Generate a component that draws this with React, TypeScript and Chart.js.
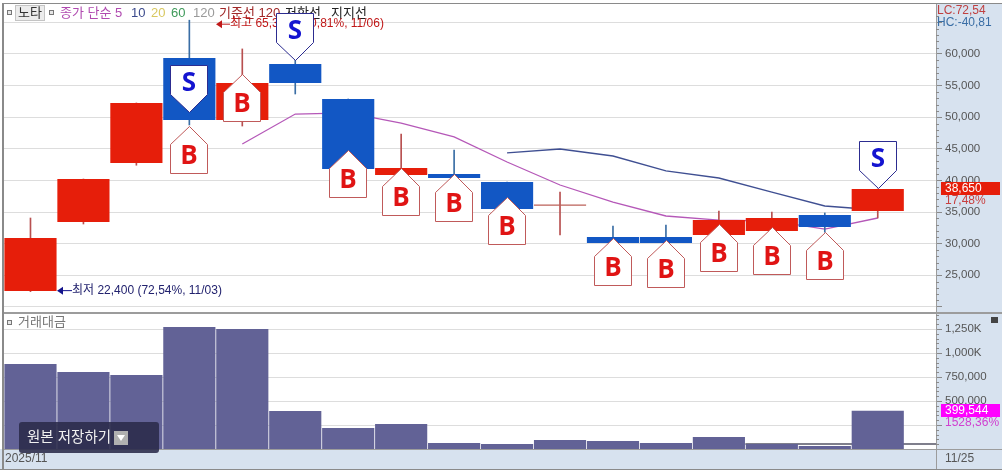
import React, { useEffect, useRef } from "react";
import { Chart, registerables } from "chart.js";

Chart.register(...registerables);

const FONT = '"Liberation Sans", "Noto Sans CJK KR", sans-serif';

const dates = ["11/03", "11/04", "11/05", "11/06", "11/07", "11/10", "11/11", "11/12", "11/13", "11/14", "11/17", "11/18", "11/19", "11/20", "11/21", "11/24", "11/25"];
const opens = [22500, 33420, 42750, 59370, 49560, 58420, 52880, 40850, 41010, 39750, 36200, 31040, 31040, 31360, 32000, 34520, 35160];
const closes = [30890, 40220, 52250, 49560, 55410, 55410, 41800, 41960, 40380, 35480, 36000, 30100, 30100, 33730, 34050, 32630, 38650];
const highs = [34050, 40220, 52250, 65350, 60800, 59000, 52880, 47340, 44810, 39750, 38170, 32790, 32950, 35160, 35000, 34850, 38650];
const lows = [22400, 33100, 42400, 48770, 48600, 53670, 41800, 40600, 40380, 35480, 31360, 30100, 30100, 31360, 32000, 31800, 34050];
const volumes = [885000, 802000, 770000, 1270000, 1250000, 396000, 219000, 260000, 62000, 52000, 94000, 83000, 62000, 125000, 52000, 30000, 399544];
const volumeFloorX = [13.5, 17.1];
const volumeFloor = [52000, 52000];
const ma5 = [null, null, null, null, 45750, 50500, 50670, 49080, 46870, 42910, 39270, 36580, 34370, 33730, 33580, 32300, 34050];
const ma10 = [null, null, null, null, null, null, null, null, null, 44340, 44970, 43860, 41490, 40380, 38160, 35950, 35320];
const buyIndex = [3, 4, 6, 7, 8, 9, 11, 12, 13, 14, 15];
const buyPrice = [48610, 56840, 44810, 41960, 41010, 37370, 30890, 30570, 33100, 32630, 31840];
const sellIndex = [3, 5, 16];
const sellPrice = [50670, 58890, 38640];
const legendItems = ["종가 단순 5", "10", "20", "60", "120", "기준선 120", "저항선", "지지선"];
const legendColors = ["#b04ab0", "#3b4a8c", "#d8c860", "#3f9a5a", "#9a9a9a", "#a02828", "#222222", "#222222"];
const legendX = [60, 131, 151, 171, 193, 219, 285, 331];
const priceGrid = [20000, 25000, 30000, 35000, 40000, 45000, 50000, 55000, 60000, 65000];
const priceLabels = [25000, 30000, 35000, 40000, 45000, 50000, 55000, 60000];
const volumeGrid = [250000, 500000, 750000, 1000000, 1250000];
const volumeLabels = [["1,250K", 1250000], ["1,000K", 1000000], ["750,000", 750000], ["500,000", 500000]];

const RED = "#e61e0a";
const BLUE = "#1257c4";

function fmt(v: number) {
  return v.toLocaleString("en-US");
}

const panelPlugin = {
  id: "panel",
  beforeDraw(chart: any) {
    const c = chart.ctx;
    const a = chart.chartArea;
    c.save();
    c.fillStyle = "#ffffff";
    c.fillRect(0, 0, chart.width, chart.height);
    c.fillStyle = "#d7e2ef";
    c.fillRect(a.right, 4, chart.width - a.right, chart.height - 4);
    c.fillRect(0, a.bottom, chart.width, chart.height - a.bottom);
    c.restore();
  },
  beforeDatasetsDraw(chart: any) {
    const c = chart.ctx;
    const a = chart.chartArea;
    const y = chart.scales.y;
    c.save();
    c.fillStyle = "#8a8a8a";
    c.fillRect(2, 3, 2, chart.height - 4);
    c.fillRect(2, 3, chart.width - 2, 1);
    c.fillRect(0, chart.height - 1, chart.width, 1);
    c.fillStyle = "#9c9c9c";
    c.fillRect(4, 312, chart.width - 4, 2);
    c.fillRect(4, a.bottom, chart.width - 4, 1);
    c.fillRect(a.right, 4, 1, chart.height - 5);
    c.fillStyle = "#8a8a8a";
    for (let v = 20000; v <= 66000; v += 1000) {
      if (v % 5000 !== 0) c.fillRect(a.right, Math.round(y.getPixelForValue(v)), 3, 1);
    }
    const yv = chart.scales.yVol;
    for (let v = 0; v <= 1400000; v += 50000) {
      if (v % 250000 !== 0) c.fillRect(a.right, Math.round(yv.getPixelForValue(v)), 3, 1);
    }
    c.textBaseline = "middle";
    c.textAlign = "left";
    c.fillStyle = "#ececec";
    c.fillRect(15, 5, 30, 16);
    c.strokeStyle = "#c4c4c4";
    c.strokeRect(15.5, 5.5, 29, 15);
    c.font = `13px ${FONT}`;
    c.fillStyle = "#333333";
    c.fillText("노타", 18, 13.5);
    for (const sx of [7, 49]) {
      c.fillStyle = "#e6e6e6";
      c.fillRect(sx, 10, 5, 5);
      c.strokeStyle = "#777777";
      c.strokeRect(sx + 0.5, 10.5, 4, 4);
    }
    c.font = `13px ${FONT}`;
    legendItems.forEach((t, i) => {
      c.fillStyle = legendColors[i];
      c.fillText(t, legendX[i], 13);
    });
    const hi = Math.max(...highs);
    const lo = Math.min(...lows);
    const hiIdx = highs.indexOf(hi);
    const loIdx = lows.indexOf(lo);
    const hiY = y.getPixelForValue(hi) + 4;
    const loY = y.getPixelForValue(lo) - 1;
    c.strokeStyle = "#c01818";
    c.fillStyle = "#c01818";
    c.beginPath();
    c.moveTo(222, hiY);
    c.lineTo(230, hiY);
    c.stroke();
    c.beginPath();
    c.moveTo(216, hiY);
    c.lineTo(222, hiY - 4);
    c.lineTo(222, hiY + 4);
    c.fill();
    c.font = `12px ${FONT}`;
    c.fillText(`최고 ${fmt(hi)} (-40,81%, ${dates[hiIdx]})`, 230, hiY);
    c.strokeStyle = "#14148c";
    c.fillStyle = "#14148c";
    c.beginPath();
    c.moveTo(63, loY);
    c.lineTo(72, loY);
    c.stroke();
    c.beginPath();
    c.moveTo(57, loY);
    c.lineTo(63, loY - 4);
    c.lineTo(63, loY + 4);
    c.fill();
    c.fillStyle = "#22226e";
    c.fillText(`최저 ${fmt(lo)} (72,54%, ${dates[loIdx]})`, 72, loY);
    c.fillStyle = "#e6e6e6";
    c.fillRect(7, 320, 5, 5);
    c.strokeStyle = "#777777";
    c.strokeRect(7.5, 320.5, 4, 4);
    c.fillStyle = "#777777";
    c.font = `13px ${FONT}`;
    c.fillText("거래대금", 18, 322);
    c.restore();
  },
  afterDatasetsDraw(chart: any) {
    const c = chart.ctx;
    const x = chart.scales.x;
    const y = chart.scales.y;
    const w = 18.5;
    c.save();
    c.lineWidth = 1;
    c.textAlign = "center";
    c.textBaseline = "middle";
    c.font = `bold 26px "Open Sans", ${FONT}`;
    buyIndex.forEach((idx, k) => {
      const px = Math.round(x.getPixelForValue(idx));
      const py = Math.round(y.getPixelForValue(buyPrice[k]));
      c.beginPath();
      c.moveTo(px + 0.5, py + 0.5);
      c.lineTo(px + w, py + 18.5);
      c.lineTo(px + w, py + 47.5);
      c.lineTo(px - w, py + 47.5);
      c.lineTo(px - w, py + 18.5);
      c.closePath();
      c.fillStyle = "#ffffff";
      c.fill();
      c.strokeStyle = "#c05a5a";
      c.stroke();
      c.fillStyle = "#e01414";
      c.fillText("B", px, py + 31);
    });
    sellIndex.forEach((idx, k) => {
      const px = Math.round(x.getPixelForValue(idx));
      const py = Math.round(y.getPixelForValue(sellPrice[k]));
      c.beginPath();
      c.moveTo(px + 0.5, py - 0.5);
      c.lineTo(px + w, py - 18.5);
      c.lineTo(px + w, py - 47.5);
      c.lineTo(px - w, py - 47.5);
      c.lineTo(px - w, py - 18.5);
      c.closePath();
      c.fillStyle = "#ffffff";
      c.fill();
      c.strokeStyle = "#2c2c90";
      c.stroke();
      c.fillStyle = "#1414d0";
      c.fillText("S", px, py - 29);
    });
    const a = chart.chartArea;
    const yv = chart.scales.yVol;
    const lastPrice = closes[closes.length - 1];
    const lastVol = volumes[volumes.length - 1];
    c.textAlign = "left";
    c.font = `12px ${FONT}`;
    c.fillStyle = "#c04040";
    c.fillText("LC:72,54", a.right + 1, 11);
    c.fillStyle = "#3a6ea5";
    c.fillText("HC:-40,81", a.right + 1, 23);
    const py = Math.round(y.getPixelForValue(lastPrice));
    c.fillStyle = "#e61e0a";
    c.fillRect(a.right + 5, py - 7, 59, 13);
    c.fillStyle = "#ffffff";
    c.fillText(fmt(lastPrice), a.right + 9, py);
    c.fillStyle = "#c84040";
    c.fillText("17,48%", a.right + 9, py + 12);
    const vy = Math.round(yv.getPixelForValue(lastVol));
    c.fillStyle = "#ff00ff";
    c.fillRect(a.right + 5, vy - 7, 59, 13);
    c.fillStyle = "#ffffff";
    c.fillText(fmt(lastVol), a.right + 9, vy);
    c.fillStyle = "#d040d0";
    c.fillText("1528,36%", a.right + 9, vy + 12);
    c.fillStyle = "#444444";
    c.fillRect(991, 317, 7, 6);
    c.fillStyle = "#555555";
    c.font = `12px ${FONT}`;
    c.fillText("2025/11", 5, 459);
    c.fillText(dates[dates.length - 1], a.right + 9, 459);
    c.fillStyle = "rgba(42,42,74,0.88)";
    c.beginPath();
    c.roundRect(19, 422, 140, 31, 3);
    c.fill();
    c.fillStyle = "#f0f0f0";
    c.font = `14.5px ${FONT}`;
    c.fillText("원본 저장하기", 27, 438);
    c.fillStyle = "#b0b0b0";
    c.fillRect(114, 431, 14, 14);
    c.fillStyle = "#ffffff";
    c.beginPath();
    c.moveTo(117, 435);
    c.lineTo(125, 435);
    c.lineTo(121, 441);
    c.fill();
    c.restore();
  },
};

export default function App() {
  const ref = useRef<HTMLCanvasElement | null>(null);
  useEffect(() => {
    document.body.style.margin = "0";
    const idx = dates.map((_, i) => i);
    const fitAxis = (s: any) => {
      s.width = 66;
      s.paddingTop = 0;
      s.paddingBottom = 0;
    };
    const chart = new Chart(ref.current as HTMLCanvasElement, {
      type: "bar",
      data: {
        datasets: [
          {
            type: "line",
            yAxisID: "y",
            order: 5,
            data: idx.map((i) => ({ x: i, y: ma5[i] })),
            borderColor: "#b558b8",
            borderWidth: 1.3,
            pointRadius: 0,
            tension: 0,
          },
          {
            type: "line",
            yAxisID: "y",
            order: 5,
            data: idx.map((i) => ({ x: i, y: ma10[i] })),
            borderColor: "#3f4f92",
            borderWidth: 1.3,
            pointRadius: 0,
            tension: 0,
          },
          {
            type: "line",
            yAxisID: "yVol",
            order: 5,
            data: volumeFloorX.map((v, i) => ({ x: v, y: volumeFloor[i] })),
            borderColor: "#555566",
            borderWidth: 1.5,
            pointRadius: 0,
          },
          {
            type: "bar",
            yAxisID: "y",
            order: 3,
            grouped: false,
            barThickness: 1,
            data: idx.map((i) => ({ x: i, y: [lows[i], highs[i]] })),
            backgroundColor: idx.map((i) => (closes[i] >= opens[i] || i === 10 ? "#b85050" : "#3a6ea5")),
          },
          {
            type: "bar",
            yAxisID: "y",
            order: 2,
            grouped: false,
            barPercentage: 0.985,
            categoryPercentage: 1,
            data: idx.map((i) => ({ x: i, y: [opens[i], closes[i]] })),
            backgroundColor: idx.map((i) => (i === 10 ? "#bb6058" : closes[i] >= opens[i] ? RED : BLUE)),
          },
          {
            type: "bar",
            yAxisID: "yVol",
            order: 2,
            grouped: false,
            barPercentage: 0.985,
            categoryPercentage: 1,
            data: idx.map((i) => ({ x: i, y: volumes[i] })),
            backgroundColor: "#626296",
          },
        ] as any,
      },
      plugins: [panelPlugin],
      options: {
        responsive: false,
        animation: false,
        parsing: { xAxisKey: "x", yAxisKey: "y" } as any,
        layout: { padding: { left: 4, top: 4, right: 0, bottom: 0 } },
        plugins: { legend: { display: false }, tooltip: { enabled: false } },
        scales: {
          x: {
            type: "linear",
            offset: false,
            min: -0.5,
            max: 17.1,
            grid: { display: false },
            border: { display: false },
            ticks: { display: false },
            afterFit(s: any) {
              s.height = 21;
            },
          },
          y: {
            position: "right",
            stack: "panes",
            stackWeight: 309,
            min: 19020,
            max: 67910,
            bounds: "data",
            border: { display: false },
            grid: { color: "#dddddd", tickColor: "#8a8a8a", tickLength: 6 },
            ticks: {
              autoSkip: false,
              padding: 3,
              color: "#555555",
              font: { family: FONT, size: 11.5 },
              callback: (v: any) => (priceLabels.includes(v) ? fmt(v) : ""),
            },
            afterBuildTicks(s: any) {
              s.ticks = priceGrid.map((value) => ({ value }));
            },
            afterFit: fitAxis,
          },
          yVol: {
            position: "right",
            stack: "panes",
            stackWeight: 136,
            min: 0,
            max: 1416667,
            bounds: "data",
            border: { display: false },
            grid: { color: "#dddddd", tickColor: "#8a8a8a", tickLength: 6 },
            ticks: {
              autoSkip: false,
              padding: 3,
              color: "#555555",
              font: { family: FONT, size: 11.5 },
              callback: (v: any) => {
                const hit = volumeLabels.find((l) => l[1] === v);
                return hit ? hit[0] : "";
              },
            },
            afterBuildTicks(s: any) {
              s.ticks = volumeGrid.map((value) => ({ value }));
            },
            afterFit: fitAxis,
          },
        },
      } as any,
    });
    return () => chart.destroy();
  }, []);
  return <canvas ref={ref} width={1002} height={470} style={{ display: "block" }} />;
}
